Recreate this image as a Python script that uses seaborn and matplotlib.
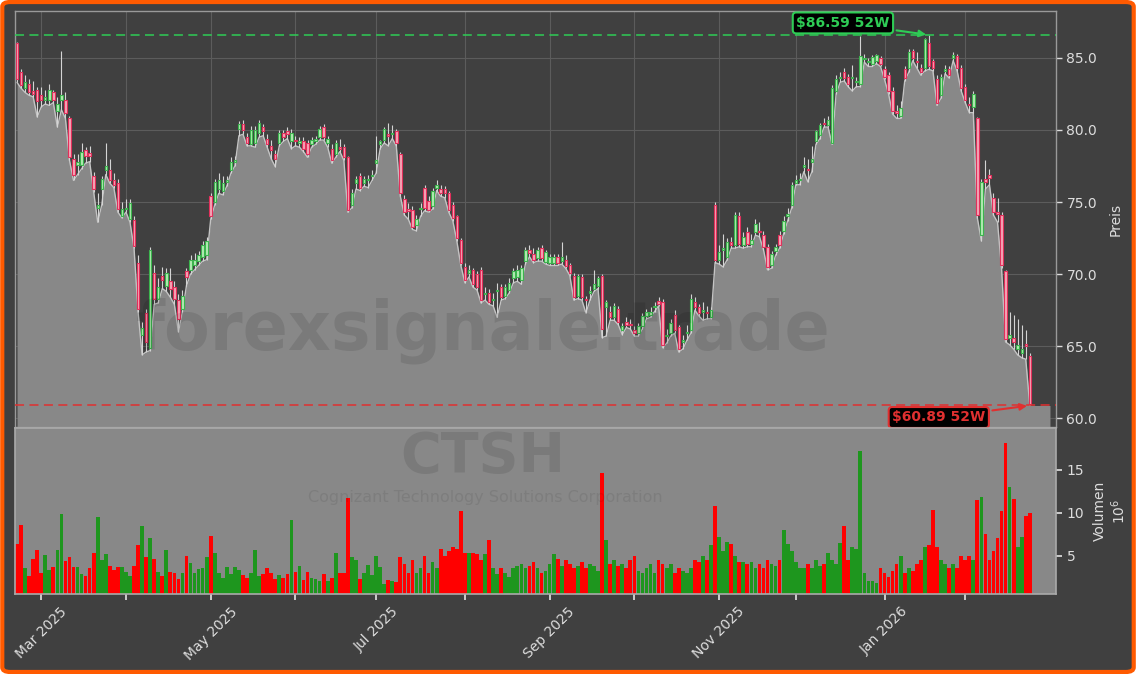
import numpy as np
import pandas as pd
import seaborn as sns
import matplotlib.pyplot as plt
from matplotlib.patches import FancyBboxPatch
from matplotlib.ticker import FixedLocator, FormatStrFormatter

# CTSH daily candles, ~52 weeks
ticker = "CTSH"
company = "Cognizant Technology Solutions Corporation"
watermark = "forexsignale.trade"
first_day = "2025-02-21"
closed_days = ["2025-04-18", "2025-05-26", "2025-06-19", "2025-07-04", "2025-09-01",
               "2025-10-13", "2025-10-14", "2025-11-27", "2025-12-25", "2026-01-01",
               "2026-01-19", "2026-02-16"]

opens = [86.0, 84.0, 82.9, 83.2, 82.7, 82.8, 82.4, 82.1, 82.1, 82.6,
         81.3, 82.1, 82.1, 80.8, 78.0, 77.6, 77.6, 78.6, 78.4, 76.8,
         74.6, 75.9, 77.2, 77.2, 76.5, 76.3, 74.0, 74.5, 73.8, 73.75,
         70.8, 65.8, 67.3, 64.9, 70.1, 68.3, 69.9, 69.2, 69.5, 69.1,
         68.2, 67.6, 70.2, 70.3, 70.6, 70.9, 71.2, 71.3, 75.4, 75.0,
         75.9, 75.8, 76.4, 77.2, 77.8, 80.1, 80.4, 79.5, 79.0, 79.1,
         79.8, 80.2, 79.4, 78.9, 78.3, 79.1, 79.8, 79.9, 79.2, 79.3,
         79.1, 79.2, 79.1, 79.0, 79.2, 79.5, 80.2, 79.1, 78.7, 78.3,
         78.8, 78.8, 78.1, 74.8, 76.3, 76.8, 76.35, 76.5, 76.8, 77.7,
         79.0, 79.3, 79.7, 79.7, 79.9, 78.3, 75.2, 74.5, 74.45, 73.4,
         74.5, 75.95, 75.1, 74.7, 75.95, 75.9, 75.9, 75.6, 74.8, 74.0,
         72.4, 70.5, 70.1, 70.3, 70.0, 70.3, 68.6, 68.7, 68.2, 68.8,
         69.1, 68.5, 68.9, 69.7, 69.8, 69.6, 70.9, 71.7, 71.4, 71.1,
         71.8, 70.86, 70.74, 70.8, 71.2, 70.9, 71.0, 70.6, 69.9, 68.5,
         69.8, 68.3, 68.7, 69.0, 69.2, 69.9, 67.7, 67.4, 67.0, 67.55,
         66.1, 66.7, 66.5, 66.15, 65.9, 66.4, 67.1, 67.2, 67.7, 68.15,
         68.1, 65.7, 65.9, 67.2, 66.3, 65.3, 65.9, 66.1, 68.1, 67.7,
         67.4, 67.4, 67.0, 74.8, 71.0, 71.7, 71.2, 72.25, 72.0, 74.0,
         72.0, 72.9, 72.1, 72.9, 73.0, 72.7, 71.9, 70.6, 71.6, 72.7,
         73.0, 74.0, 74.8, 76.3, 76.5, 77.4, 77.3, 77.8, 79.2, 79.65,
         80.5, 80.35, 79.1, 82.7, 83.6, 84.05, 83.7, 83.6, 83.3, 83.2,
         84.9, 84.7, 84.6, 84.75, 84.97, 84.2, 83.8, 82.7, 81.3, 81.0,
         84.2, 84.3, 85.5, 84.8, 84.3, 84.3, 86.0, 84.75, 83.5, 82.4,
         84.1, 84.2, 85.0, 85.1, 84.3, 83.0, 81.8, 81.6, 80.8, 72.7,
         76.6, 76.9, 75.25, 74.3, 74.1, 70.2, 65.6, 65.6, 64.8, 64.5,
         65.15, 64.3]
highs = [86.1, 84.2, 83.8, 83.5, 83.4, 83.0, 83.0, 82.8, 83.2, 82.8,
         82.3, 85.5, 82.6, 81.0, 78.3, 78.3, 79.1, 78.8, 78.9, 77.1,
         75.6, 76.8, 79.1, 78.0, 77.0, 76.6, 75.0, 75.2, 75.2, 74.0,
         71.3, 66.7, 67.6, 71.9, 70.6, 69.7, 70.5, 70.4, 70.4, 69.5,
         68.6, 68.9, 70.4, 71.3, 71.5, 71.6, 72.3, 72.6, 75.6, 76.6,
         77.0, 76.8, 76.8, 78.1, 78.2, 80.6, 80.7, 79.8, 80.3, 80.3,
         80.7, 80.4, 79.7, 79.3, 78.6, 80.0, 80.0, 80.2, 80.1, 79.6,
         79.5, 79.5, 79.3, 79.5, 79.6, 80.3, 80.4, 79.6, 79.0, 79.3,
         79.4, 79.0, 78.2, 75.9, 76.8, 77.0, 76.8, 76.9, 77.2, 79.6,
         79.3, 80.2, 80.45, 80.35, 80.1, 78.5, 75.5, 74.9, 74.7, 74.1,
         74.9, 76.2, 75.4, 76.0, 76.5, 76.2, 76.1, 75.8, 75.0, 74.1,
         72.5, 70.8, 70.6, 70.4, 70.2, 70.5, 69.1, 69.0, 68.7, 69.4,
         69.3, 69.3, 69.7, 70.4, 70.6, 70.6, 71.9, 72.0, 71.8, 71.9,
         72.0, 71.7, 71.4, 71.4, 71.4, 72.2, 71.3, 70.8, 70.1, 70.0,
         70.0, 68.5, 69.2, 70.3, 69.9, 70.0, 68.2, 67.8, 68.0, 67.8,
         66.6, 67.0, 66.9, 66.4, 66.6, 67.3, 67.6, 67.7, 68.1, 68.4,
         68.3, 66.2, 66.9, 67.5, 66.5, 65.8, 66.5, 68.6, 68.4, 67.9,
         68.1, 67.8, 67.7, 75.0, 72.0, 72.8, 72.5, 72.6, 74.3, 74.3,
         72.9, 73.3, 72.8, 73.8, 73.6, 73.0, 72.1, 71.6, 72.1, 73.0,
         74.0, 74.6, 76.4, 76.9, 77.0, 78.1, 78.0, 78.9, 80.0, 80.5,
         80.8, 81.0, 83.1, 83.8, 84.0, 84.3, 83.9, 84.5, 83.7, 86.5,
         85.3, 85.0, 85.2, 85.3, 85.1, 84.4, 84.0, 83.0, 81.7, 82.0,
         84.4, 85.6, 85.6, 85.4, 84.6, 86.4, 86.59, 84.9, 83.8, 83.9,
         84.5, 84.4, 85.4, 85.3, 84.5, 83.2, 82.3, 82.7, 80.9, 76.6,
         77.9, 77.3, 75.6, 75.3, 74.3, 70.3, 67.4, 67.2, 66.9, 66.5,
         66.1, 64.5]
lows = [83.3, 82.9, 82.6, 82.4, 82.3, 80.9, 81.6, 81.8, 81.7, 81.9,
        80.2, 81.4, 80.8, 77.9, 76.5, 76.9, 77.3, 77.7, 77.8, 75.7,
        73.6, 74.8, 76.9, 76.3, 76.0, 74.3, 73.9, 74.3, 73.6, 71.8,
        67.4, 64.4, 64.6, 64.7, 67.9, 68.0, 69.0, 68.8, 68.4, 67.9,
        66.0, 67.4, 69.2, 70.0, 70.3, 70.6, 70.9, 71.0, 73.8, 74.8,
        75.6, 75.5, 76.1, 77.0, 77.5, 79.6, 79.7, 78.9, 78.9, 78.8,
        79.5, 79.6, 78.8, 78.0, 77.45, 78.9, 79.2, 79.4, 78.7, 78.9,
        78.8, 78.5, 78.1, 78.8, 79.0, 79.3, 79.3, 78.8, 77.7, 78.1,
        78.5, 77.9, 74.3, 74.6, 75.9, 75.8, 76.1, 76.0, 76.5, 77.0,
        78.7, 79.1, 78.9, 79.4, 78.9, 75.4, 74.1, 73.8, 73.1, 73.0,
        74.0, 74.4, 74.3, 74.5, 75.8, 75.4, 75.3, 74.3, 73.7, 72.3,
        70.6, 69.4, 69.8, 69.1, 68.9, 68.0, 68.2, 67.9, 67.8, 67.0,
        68.2, 68.3, 68.7, 69.4, 69.5, 69.3, 70.7, 71.2, 70.8, 70.9,
        70.9, 70.7, 70.6, 70.6, 70.6, 70.7, 70.4, 69.9, 68.2, 68.3,
        68.2, 67.3, 68.2, 68.8, 69.0, 65.6, 65.7, 66.8, 66.8, 66.5,
        65.8, 66.3, 66.2, 65.7, 65.7, 66.2, 66.9, 67.0, 67.4, 67.8,
        64.9, 65.2, 65.7, 65.9, 64.6, 64.8, 65.4, 65.9, 67.5, 67.1,
        66.8, 66.9, 66.9, 70.8, 70.7, 70.5, 71.0, 71.8, 71.8, 71.9,
        71.8, 71.9, 71.9, 72.7, 72.6, 71.7, 70.3, 70.4, 71.3, 71.8,
        72.8, 73.7, 74.6, 76.2, 76.2, 77.1, 76.4, 77.1, 79.0, 79.4,
        80.2, 80.2, 79.0, 82.5, 83.3, 83.4, 83.0, 82.7, 83.0, 83.0,
        84.7, 84.4, 84.4, 84.6, 84.4, 83.5, 82.5, 81.1, 80.8, 80.8,
        83.4, 84.0, 84.8, 84.3, 83.8, 84.1, 84.2, 84.1, 81.7, 82.2,
        83.9, 83.6, 84.8, 84.1, 82.7, 81.9, 81.2, 81.2, 73.9, 72.3,
        75.9, 76.2, 74.1, 73.6, 70.4, 65.3, 65.1, 64.8, 64.4, 64.2,
        64.1, 60.89]
closes = [83.5, 83.1, 83.35, 82.6, 82.5, 82.0, 82.1, 82.3, 82.8, 82.1,
          81.8, 82.4, 81.2, 78.1, 76.9, 77.8, 78.5, 78.2, 78.2, 75.9,
          74.8, 76.6, 77.5, 76.5, 76.2, 74.5, 74.5, 74.6, 74.9, 71.95,
          67.6, 66.25, 65.3, 71.7, 68.3, 69.1, 69.6, 70.1, 69.0, 68.3,
          66.9, 68.5, 69.8, 71.0, 71.0, 71.3, 72.0, 72.3, 74.0, 76.4,
          76.5, 76.3, 76.5, 77.8, 77.9, 80.4, 80.0, 79.1, 80.0, 80.0,
          80.5, 79.9, 79.0, 78.6, 78.0, 79.8, 79.5, 79.7, 79.8, 79.2,
          79.2, 78.7, 78.3, 79.3, 79.4, 80.05, 79.5, 79.35, 77.9, 79.1,
          78.7, 78.15, 74.45, 75.65, 76.6, 75.95, 76.6, 76.6, 76.9, 77.9,
          79.2, 80.1, 79.6, 79.8, 79.1, 75.6, 74.3, 74.4, 73.3, 73.8,
          74.6, 74.6, 74.45, 75.8, 76.2, 75.65, 75.6, 74.45, 73.9, 72.5,
          70.8, 69.6, 70.3, 69.35, 69.1, 68.2, 68.7, 68.1, 68.3, 68.9,
          68.4, 69.1, 69.4, 70.2, 70.3, 70.4, 71.7, 71.5, 71.0, 71.7,
          71.1, 71.55, 71.2, 71.2, 70.8, 71.2, 70.55, 70.1, 68.4, 69.9,
          68.4, 68.2, 68.8, 69.3, 69.7, 66.2, 68.1, 67.0, 67.8, 66.7,
          66.4, 66.45, 66.45, 65.9, 66.4, 67.1, 67.4, 67.4, 67.8, 67.95,
          65.1, 65.75, 66.6, 66.1, 64.8, 65.4, 66.0, 68.3, 67.7, 67.3,
          67.5, 67.3, 67.5, 71.0, 71.55, 71.8, 72.2, 72.0, 74.1, 72.1,
          72.6, 72.1, 72.4, 73.5, 72.9, 71.9, 70.5, 71.4, 71.9, 72.0,
          73.7, 74.2, 76.2, 76.5, 76.6, 77.6, 77.2, 78.0, 79.9, 80.35,
          80.4, 80.7, 82.9, 83.5, 83.7, 83.6, 83.2, 83.7, 83.35, 85.1,
          85.0, 84.75, 85.05, 85.2, 84.6, 83.7, 82.7, 81.3, 81.2, 81.5,
          83.6, 85.4, 84.97, 84.7, 84.0, 86.3, 84.4, 84.3, 81.85, 83.7,
          84.2, 83.8, 85.2, 84.3, 82.9, 82.1, 81.75, 82.5, 74.1, 76.4,
          76.4, 76.7, 74.3, 74.2, 70.6, 65.5, 65.8, 65.3, 65.1, 64.8,
          65.05, 61.0]
volumes = [6.3, 8.6, 3.5, 2.6, 4.65, 5.6, 3.0, 5.1, 3.3, 3.7,
           5.7, 9.9, 4.3, 4.8, 3.6, 3.7, 2.8, 2.6, 3.5, 5.3,
           9.5, 4.5, 5.2, 3.8, 3.3, 3.7, 3.6, 3.1, 2.6, 3.8,
           6.2, 8.4, 4.8, 7.1, 4.65, 3.1, 2.6, 5.6, 3.1, 3.0,
           2.2, 2.9, 5.0, 4.1, 2.9, 3.4, 3.5, 4.8, 7.3, 5.3,
           3.0, 2.4, 3.6, 2.8, 3.6, 3.3, 2.7, 2.4, 2.9, 5.6,
           2.6, 2.8, 3.5, 2.9, 2.2, 2.7, 2.4, 2.8, 9.2, 3.1,
           3.8, 2.1, 3.1, 2.4, 2.3, 2.0, 2.8, 2.0, 2.4, 5.3,
           2.9, 2.9, 11.7, 4.8, 4.5, 2.3, 2.9, 3.9, 2.7, 4.9,
           3.6, 1.7, 2.1, 2.0, 1.9, 4.8, 4.0, 3.0, 4.5, 3.0,
           3.5, 5.0, 3.0, 4.2, 3.5, 5.8, 5.0, 5.5, 6.0, 5.8,
           10.2, 5.3, 5.3, 5.3, 5.2, 4.5, 5.2, 6.8, 3.5, 2.8,
           3.5, 3.0, 2.5, 3.5, 3.8, 4.0, 3.5, 3.8, 4.2, 3.5,
           3.0, 3.2, 4.0, 5.2, 4.6, 3.8, 4.5, 4.0, 3.5, 3.8,
           4.2, 3.5, 4.0, 3.8, 3.2, 14.6, 6.8, 4.0, 4.5, 3.8,
           4.0, 3.5, 4.5, 5.0, 3.2, 3.0, 3.5, 4.0, 3.0, 4.5,
           4.0, 3.5, 4.0, 3.0, 3.5, 3.2, 3.0, 3.5, 4.5, 4.2,
           5.0, 4.5, 6.2, 10.8, 7.2, 5.5, 6.6, 6.4, 5.0, 4.2,
           4.2, 4.0, 4.2, 3.5, 4.0, 3.5, 4.5, 4.0, 3.8, 4.5,
           8.0, 6.3, 5.5, 4.2, 3.5, 3.5, 4.0, 3.5, 4.5, 3.8,
           4.0, 5.3, 4.5, 4.0, 6.5, 8.5, 4.5, 6.0, 5.8, 17.2,
           3.0, 2.0, 2.0, 1.8, 3.5, 3.0, 2.5, 3.2, 4.0, 5.0,
           3.0, 3.5, 3.2, 4.0, 4.5, 6.0, 6.2, 10.3, 6.0, 4.5,
           4.0, 3.5, 4.0, 3.5, 5.0, 4.5, 5.0, 4.5, 11.5, 11.8,
           7.5, 4.5, 5.5, 7.0, 10.2, 18.1, 13.0, 11.6, 6.0, 7.2,
           9.6, 10.0]

o = np.array(opens)
h = np.array(highs)
l = np.array(lows)
c = np.array(closes)
v = np.array(volumes)
n = len(c)
x = np.arange(n)
dates = pd.bdate_range(first_day, periods=n, freq="C", holidays=closed_days)

bg = "#404040"
fg = "#dddddd"
panel_gray = "#888888"
hi_col = "#2ecc55"
lo_col = "#e03030"

sns.set_theme(style="dark", rc={"axes.facecolor": bg, "figure.facecolor": "white",
                                "axes.edgecolor": "#9a9a9a", "grid.color": "#5c5c5c"})

fig = plt.figure(figsize=(11.36, 6.74), dpi=100)
frame = FancyBboxPatch((0.002, 0.003), 0.996, 0.994, boxstyle="round,pad=0,rounding_size=0.007",
                       transform=fig.transFigure, facecolor=bg, edgecolor="#ff5a00", lw=3, zorder=-10)
fig.add_artist(frame)

ax = fig.add_axes([0.0132, 0.3665, 0.9164, 0.6172])
axv = fig.add_axes([0.0132, 0.1187, 0.9164, 0.2463], sharex=ax)

# month ticks at first trading day of each month
s = pd.Series(x, index=dates)
month_first = s.groupby(dates.to_period("M")).min()
tick_pos = [p for p in month_first.values if p > 0]
tick_lab = [dates[p].strftime("%b %Y") if dates[p].month % 2 == 1 else "" for p in tick_pos]

# price panel
ax.set_axisbelow(True)
ax.grid(True, axis="both", color="#5c5c5c", lw=0.8)
fill_x = np.r_[x, x[-1] + 5]
fill_y = np.r_[l, l[-1]]
ax.fill_between(fill_x, fill_y, 55, color=panel_gray, lw=0, zorder=1)
sns.lineplot(x=x, y=l, ax=ax, color="#c4c4c4", lw=1.0, zorder=2)

up = c >= o
body_lo = np.minimum(o, c)
body_h = np.maximum(np.abs(c - o), 0.08)
ax.vlines(x, l, h, color="#d4d4d4", lw=0.8, zorder=3)
ax.bar(x[up], body_h[up], bottom=body_lo[up], width=0.6, color="#b4ecb4",
       edgecolor="#3cb44e", lw=0.8, zorder=4)
ax.bar(x[~up], body_h[~up], bottom=body_lo[~up], width=0.6, color="#f6a6b6",
       edgecolor="#e2305c", lw=0.8, zorder=4)

hi_val = h.max()
lo_val = l.min()
hi_i = int(h.argmax())
lo_i = int(l.argmin())
ax.axhline(hi_val, color=hi_col, ls=(0, (5, 3)), lw=1.3, alpha=0.85, zorder=5)
ax.axhline(lo_val, color=lo_col, ls=(0, (5, 3)), lw=1.3, alpha=0.85, zorder=5)
ax.annotate(f"${hi_val:.2f} 52W", xy=(hi_i, hi_val), xytext=(-86, 12), textcoords="offset pixels",
            ha="center", va="center", color=hi_col, fontsize=10, fontweight="bold",
            bbox=dict(boxstyle="round,pad=0.25", fc="black", ec=hi_col, lw=1.5),
            arrowprops=dict(arrowstyle="-|>", color=hi_col, lw=1.5), zorder=6)
ax.annotate(f"${lo_val:.2f} 52W", xy=(lo_i, lo_val), xytext=(-91, -12), textcoords="offset pixels",
            ha="center", va="center", color=lo_col, fontsize=10, fontweight="bold",
            bbox=dict(boxstyle="round,pad=0.25", fc="black", ec=lo_col, lw=1.5),
            arrowprops=dict(arrowstyle="-|>", color=lo_col, lw=1.5), zorder=6)

ax.set_ylim(59.4, 88.25)
ax.set_xlim(-0.5, n + 5.5)
ax.yaxis.tick_right()
ax.yaxis.set_label_position("right")
ax.set_yticks([60, 65, 70, 75, 80, 85])
ax.yaxis.set_major_formatter(FormatStrFormatter("%.1f"))
ax.set_ylabel("Preis", color=fg, fontsize=10, labelpad=8)
ax.tick_params(axis="y", colors=fg, labelsize=10, length=4, width=1, right=True)
ax.tick_params(axis="x", length=0, labelbottom=False)
ax.xaxis.set_major_locator(FixedLocator(tick_pos))
for sp in ax.spines.values():
    sp.set_color("#9a9a9a")
    sp.set_linewidth(1.0)

# volume panel
axv.set_facecolor(panel_gray)
axv.bar(x, v, width=0.92, color=np.where(up, "#1e961e", "#ff0000"), lw=0, edgecolor="none", zorder=2)
axv.set_ylim(0.5, v.max() * 1.1)
axv.yaxis.tick_right()
axv.yaxis.set_label_position("right")
axv.set_yticks([5, 10, 15])
axv.set_ylabel("Volumen\n$10^6$", color=fg, fontsize=10, labelpad=6)
axv.tick_params(axis="y", colors=fg, labelsize=10, length=4, right=True)
axv.xaxis.set_major_locator(FixedLocator(tick_pos))
axv.set_xticklabels(tick_lab, rotation=45, color=fg, fontsize=10)
axv.tick_params(axis="x", colors=fg, length=4, bottom=True)
axv.grid(False)
for sp in axv.spines.values():
    sp.set_color("#aaaaaa")
    sp.set_linewidth(1.2)

# watermark texts
fig.text(0.425, 0.51, watermark, fontsize=48, fontweight="bold", color="black",
         alpha=0.1, ha="center", va="center", zorder=10)
fig.text(0.425, 0.322, ticker, fontsize=40, fontweight="bold", color="black",
         alpha=0.1, ha="center", va="center", zorder=10)
fig.text(0.427, 0.262, company, fontsize=11.5, color="black",
         alpha=0.08, ha="center", va="center", zorder=10)

fig.savefig("out.png", dpi=100)
